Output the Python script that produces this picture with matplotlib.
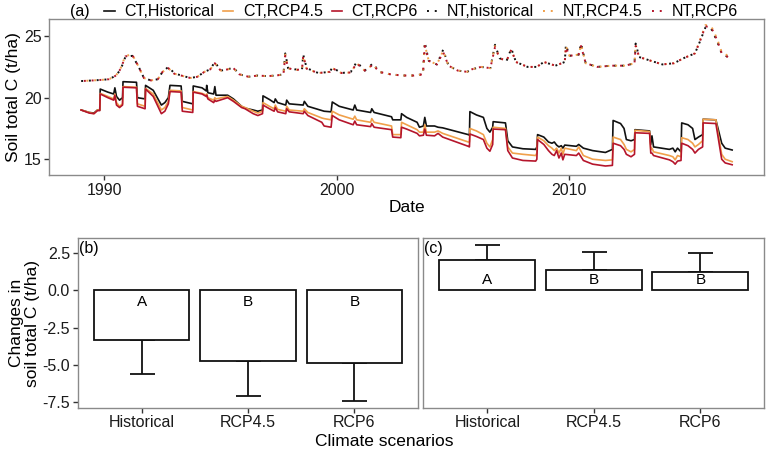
import matplotlib
matplotlib.use("Agg")
import matplotlib.pyplot as plt

plt.rcParams['font.family'] = ['Liberation Sans', 'DejaVu Sans']
plt.rcParams['axes.unicode_minus'] = False

# ---- panel (a): soil total C through time (decimal years) ----
ct_dates = [1989.00, 1989.35, 1989.55, 1989.70, 1989.80, 1989.82, 1990.15, 1990.40, 1990.45, 1990.52,
            1990.65, 1990.78, 1990.80, 1991.38, 1991.42, 1991.75, 1991.77, 1992.10, 1992.45, 1992.60,
            1992.75, 1992.82, 1993.30, 1993.35, 1993.80, 1993.82, 1994.20, 1994.38, 1994.40, 1994.45,
            1994.70, 1994.75, 1994.80, 1995.30, 1995.55, 1995.90, 1996.05, 1996.40, 1996.60, 1996.80,
            1996.82, 1997.10, 1997.30, 1997.35, 1997.45, 1997.80, 1997.84, 1997.95, 1998.55, 1998.60,
            1998.75, 1999.35, 1999.45, 1999.75, 1999.80, 2000.10, 2000.70, 2000.77, 2000.85, 2001.45,
            2001.50, 2001.60, 2002.35, 2002.40, 2002.75, 2002.78, 2003.00, 2003.45, 2003.55, 2003.72,
            2003.78, 2003.85, 2004.20, 2004.35, 2004.55, 2005.65, 2005.70, 2005.72, 2006.00, 2006.30,
            2006.45, 2006.58, 2006.70, 2006.72, 2007.25, 2007.35, 2007.55, 2008.00, 2008.55, 2008.60,
            2008.63, 2008.90, 2009.10, 2009.25, 2009.35, 2009.45, 2009.55, 2009.65, 2009.72, 2009.80,
            2010.30, 2010.40, 2010.60, 2011.00, 2011.55, 2011.85, 2011.88, 2012.20, 2012.35, 2012.45,
            2012.65, 2012.80, 2012.82, 2013.45, 2013.50, 2013.55, 2013.62, 2014.30, 2014.45, 2014.55,
            2014.65, 2014.80, 2014.83, 2015.10, 2015.30, 2015.40, 2015.55, 2015.73, 2015.75, 2016.30,
            2016.55, 2016.70, 2017.00]
ct_hist = [19.0, 18.8, 18.75, 19.0, 19.0, 20.7, 20.45, 20.3, 20.8, 20.1,
           19.8, 20.0, 21.3, 21.25, 20.0, 19.9, 21.0, 20.6, 19.4, 19.6,
           20.0, 21.0, 20.95, 19.7, 19.5, 20.95, 20.8, 20.55, 21.0, 20.4,
           20.3, 20.9, 20.2, 20.2, 19.9, 19.3, 19.15, 19.0, 18.9, 19.0,
           20.15, 19.85, 19.6, 19.9, 19.6, 19.4, 19.8, 19.5, 19.4, 19.7,
           19.3, 18.95, 18.9, 18.85, 19.65, 19.3, 19.0, 19.4, 19.0, 18.8,
           19.1, 18.8, 18.45, 18.2, 18.2, 18.7, 18.4, 18.0, 17.6, 17.7,
           18.4, 17.7, 17.7, 17.6, 17.55, 17.0, 16.95, 18.87, 18.6, 18.4,
           17.5, 17.2, 17.6, 18.05, 17.95, 16.5, 16.0, 15.85, 15.8, 16.0,
           17.0, 16.8, 16.4, 16.3, 16.4, 16.15, 16.0, 16.1, 15.9, 16.15,
           16.05, 16.2, 15.9, 15.7, 15.55, 15.8, 18.15, 17.9, 17.5, 16.6,
           16.5, 16.6, 17.4, 17.3, 16.2, 16.9, 16.0, 15.8, 15.9, 15.6,
           15.9, 15.6, 17.95, 17.8, 17.5, 16.6, 16.8, 17.0, 18.25, 18.2,
           16.3, 15.9, 15.75]
ct_rcp45 = [19.0, 18.8, 18.7, 19.0, 19.0, 20.35, 20.1, 19.9, 20.3, 19.6,
            19.3, 19.5, 20.9, 20.85, 19.5, 19.3, 20.75, 20.3, 19.0, 19.2,
            19.7, 20.6, 20.55, 19.2, 19.0, 20.5, 20.35, 20.2, 20.3, 20.0,
            19.8, 20.0, 19.9, 20.1, 19.8, 19.3, 19.2, 18.9, 18.75, 18.9,
            19.6, 19.3, 19.1, 19.4, 19.05, 18.9, 19.3, 19.0, 18.9, 19.1,
            18.8, 18.35, 18.3, 18.2, 18.9, 18.6, 18.25, 18.5, 18.2, 18.0,
            18.3, 18.0, 17.7, 17.0, 17.0, 18.0, 17.8, 17.4, 17.2, 17.2,
            17.8, 17.2, 17.2, 17.3, 17.1, 16.4, 16.4, 17.5, 17.3, 17.0,
            16.3, 16.0, 16.6, 17.6, 17.5, 16.0, 15.5, 15.4, 15.3, 15.5,
            16.8, 16.5, 16.1, 15.9, 15.7, 15.9, 15.5, 15.9, 15.4, 15.9,
            15.7, 16.0, 15.3, 15.0, 14.9, 14.95, 16.8, 16.6, 16.2, 15.8,
            15.6, 15.8, 17.35, 17.25, 15.8, 15.9, 15.6, 15.3, 15.2, 14.95,
            15.3, 15.2, 16.75, 16.6, 16.3, 16.0, 16.2, 16.5, 18.25, 18.2,
            15.4, 15.0, 14.8]
ct_rcp6 = [19.0, 18.75, 18.7, 18.95, 18.95, 20.3, 20.0, 19.8, 20.2, 19.4,
           19.2, 19.4, 20.85, 20.8, 19.3, 19.1, 20.7, 20.1, 18.7, 18.9,
           19.5, 20.5, 20.45, 18.9, 18.8, 20.45, 20.3, 20.1, 20.2, 19.9,
           19.6, 19.8, 19.7, 20.0, 19.7, 19.2, 19.1, 18.7, 18.55, 18.7,
           19.4, 19.1, 18.9, 19.2, 18.85, 18.7, 19.1, 18.85, 18.7, 18.9,
           18.55, 18.0, 17.7, 17.6, 18.55, 18.2, 17.8, 18.1, 17.8, 17.65,
           17.9, 17.6, 17.4, 16.8, 16.75, 17.6, 17.45, 17.1, 16.9, 16.95,
           17.45, 16.95, 16.9, 17.1, 16.8, 16.05, 16.0, 17.05, 16.85, 16.6,
           15.9, 15.65, 16.2, 17.45, 17.4, 15.7, 15.1, 14.9, 14.85, 15.0,
           16.6, 16.2, 15.7, 15.4, 15.3, 15.7, 15.1, 15.5, 14.95, 15.4,
           15.3, 15.5, 14.9, 14.6, 14.45, 14.5, 16.3, 16.1, 15.8, 15.4,
           15.2, 15.4, 17.15, 17.1, 15.5, 15.5, 15.3, 14.95, 14.8, 14.6,
           14.85, 14.9, 16.3, 16.1, 15.8, 15.5, 15.8, 16.0, 17.95, 17.9,
           15.0, 14.7, 14.55]

nt_dates = [1989.00, 1989.50, 1989.90, 1990.20, 1990.50, 1990.70, 1990.90, 1991.20, 1991.45, 1991.70,
            1992.00, 1992.30, 1992.50, 1992.75, 1993.00, 1993.30, 1993.70, 1994.00, 1994.30, 1994.55,
            1994.75, 1995.00, 1995.30, 1995.55, 1995.80, 1996.20, 1996.60, 1997.00, 1997.40, 1997.70,
            1997.78, 1997.90, 1998.20, 1998.50, 1998.55, 1998.70, 1999.20, 1999.70, 1999.80, 2000.20,
            2000.60, 2000.85, 2001.20, 2001.56, 2001.80, 2002.30, 2002.80, 2003.30, 2003.70, 2003.78,
            2003.95, 2004.30, 2004.57, 2004.80, 2005.20, 2005.60, 2005.80, 2006.20, 2006.60, 2006.80,
            2007.00, 2007.30, 2007.50, 2007.70, 2008.20, 2008.60, 2008.90, 2009.40, 2009.80, 2009.85,
            2010.00, 2010.40, 2010.50, 2010.70, 2011.20, 2011.80, 2012.40, 2012.80, 2012.85, 2013.00,
            2013.50, 2014.00, 2014.50, 2014.90, 2015.40, 2015.60, 2015.85, 2016.10, 2016.35, 2016.55,
            2017.00]
nt_hist = [21.35, 21.4, 21.45, 21.5, 21.8, 22.3, 23.3, 23.4, 22.6, 21.6,
           21.4, 21.5, 22.1, 22.5, 22.0, 21.8, 21.6, 21.7, 22.1, 22.3,
           22.9, 22.2, 22.3, 22.45, 21.9, 21.7, 21.8, 21.75, 21.8, 21.9,
           23.6, 22.4, 22.3, 22.3, 23.5, 22.4, 22.0, 22.1, 22.45, 22.0,
           22.1, 22.9, 22.2, 22.8, 22.1, 21.9, 21.8, 21.8, 21.9, 24.5,
           23.0, 22.7, 23.9, 22.6, 22.2, 22.1, 22.3, 22.5, 22.4, 24.3,
           23.2, 23.0, 24.0, 22.9, 22.5, 22.5, 22.9, 22.6, 22.9, 24.3,
           23.4, 23.5, 24.4, 22.8, 22.5, 22.6, 22.6, 22.8, 24.4, 23.3,
           23.0, 22.7, 22.8, 23.2, 23.6, 24.5, 25.7, 25.6, 24.6, 23.6,
           23.1]
nt_rcp45 = [21.35, 21.4, 21.45, 21.5, 21.8, 22.4, 23.4, 23.5, 22.6, 21.6,
            21.4, 21.5, 22.1, 22.4, 21.95, 21.8, 21.6, 21.7, 22.1, 22.3,
            22.8, 22.2, 22.3, 22.4, 21.9, 21.7, 21.8, 21.75, 21.8, 21.9,
            23.5, 22.4, 22.25, 22.3, 23.4, 22.35, 22.0, 22.1, 22.4, 22.0,
            22.05, 22.8, 22.2, 22.7, 22.1, 21.9, 21.8, 21.8, 21.9, 24.3,
            23.0, 22.7, 23.8, 22.6, 22.2, 22.1, 22.3, 22.5, 22.4, 24.2,
            23.2, 23.0, 23.9, 22.9, 22.5, 22.5, 22.9, 22.6, 22.9, 24.2,
            23.4, 23.5, 24.3, 22.8, 22.5, 22.6, 22.6, 22.8, 24.3, 23.3,
            23.0, 22.7, 22.8, 23.2, 23.6, 24.6, 25.9, 25.8, 24.8, 23.7,
            23.2]
nt_rcp6 = [21.35, 21.4, 21.45, 21.5, 21.8, 22.35, 23.35, 23.45, 22.6, 21.6,
           21.4, 21.5, 22.1, 22.4, 21.95, 21.8, 21.6, 21.7, 22.1, 22.3,
           22.8, 22.2, 22.3, 22.4, 21.9, 21.7, 21.8, 21.75, 21.8, 21.9,
           23.4, 22.4, 22.25, 22.3, 23.4, 22.35, 22.0, 22.1, 22.4, 22.0,
           22.05, 22.8, 22.2, 22.7, 22.1, 21.9, 21.8, 21.8, 21.9, 24.2,
           23.0, 22.7, 23.7, 22.6, 22.2, 22.1, 22.3, 22.5, 22.4, 24.1,
           23.2, 23.0, 23.9, 22.9, 22.5, 22.5, 22.9, 22.6, 22.9, 24.1,
           23.4, 23.5, 24.2, 22.8, 22.5, 22.6, 22.6, 22.8, 24.2, 23.3,
           23.0, 22.7, 22.8, 23.2, 23.6, 24.5, 25.8, 25.7, 24.7, 23.6,
           23.1]

# ---- panels (b) and (c): change in soil total C ----
scenarios = ["Historical", "RCP4.5", "RCP6"]
ct_change = [-3.33, -4.73, -4.90]
ct_err = [2.27, 2.38, 2.52]
ct_letters = ["A", "B", "B"]
nt_change = [2.03, 1.35, 1.24]
nt_err = [1.01, 1.22, 1.31]
nt_letters = ["A", "B", "B"]

black, orange, red = "#111111", "#F0A04B", "#B5152B"
frame = "#8a8a8a"

fig = plt.figure(figsize=(7.68, 4.51), dpi=100)

ax = fig.add_axes([0.0642, 0.612, 0.9306, 0.345])
ax.plot(ct_dates, ct_hist, color=black, lw=1.2, label="CT,Historical")
ax.plot(ct_dates, ct_rcp45, color=orange, lw=1.2, label="CT,RCP4.5")
ax.plot(ct_dates, ct_rcp6, color=red, lw=1.2, label="CT,RCP6")
ax.plot(nt_dates, nt_hist, color=black, lw=1.4, ls=(0, (1, 3)), label="NT,historical")
ax.plot(nt_dates, nt_rcp45, color=orange, lw=1.4, ls=(1.3, (1, 3)), label="NT,RCP4.5")
ax.plot(nt_dates, nt_rcp6, color=red, lw=1.4, ls=(2.6, (1, 3)), label="NT,RCP6")
ax.set_xlim(1987.63, 2018.37)
ax.set_ylim(13.72, 26.36)
ax.set_xticks([1990, 2000, 2010])
ax.set_yticks([15, 20, 25])
ax.set_xlabel("Date", fontsize=12.5, labelpad=2)
ax.set_ylabel("Soil total C (t/ha)", fontsize=12.5, labelpad=2)
leg = ax.legend(ncol=6, loc="center left", bbox_to_anchor=(0.0765, 1.05), frameon=False,
                fontsize=11.5, handlelength=0.66, handletextpad=0.6, columnspacing=0.55,
                borderpad=0, borderaxespad=0)
# all dotted keys show two dots, like the reference
for h in leg.get_lines()[3:]:
    h.set_linestyle((0, (1, 3)))
fig.text(0.0911, 0.974, "(a)", fontsize=11.5, ha="left", va="center")

axb = fig.add_axes([0.1012, 0.096, 0.4435, 0.3756])
axc = fig.add_axes([0.5512, 0.096, 0.4440, 0.3756])
xs = range(1, len(scenarios) + 1)
for a, vals, errs, letters, tag, ly in [(axb, ct_change, ct_err, ct_letters, "(b)", -0.75),
                                        (axc, nt_change, nt_err, nt_letters, "(c)", 0.72)]:
    lower = [e if v < 0 else 0 for v, e in zip(vals, errs)]
    upper = [e if v > 0 else 0 for v, e in zip(vals, errs)]
    a.errorbar(list(xs), vals, yerr=[lower, upper], fmt="none", ecolor=black,
               elinewidth=1.3, capsize=9, capthick=1.3, zorder=1)
    a.bar(list(xs), vals, width=0.9, facecolor="white", edgecolor=black, linewidth=1.3, zorder=2)
    for x, t in zip(xs, letters):
        a.text(x, ly, t, ha="center", va="center", fontsize=11)
    a.text(0.003, 0.985, tag, transform=a.transAxes, ha="left", va="top", fontsize=11.5)
    a.set_xlim(0.4, 3.6)
    a.set_ylim(-7.9, 3.51)
    a.set_xticks(list(xs))
    a.set_xticklabels(scenarios)
    a.set_yticks([2.5, 0.0, -2.5, -5.0, -7.5])
axb.set_yticklabels(["2.5", "0.0", "-2.5", "-5.0", "-7.5"])
axc.tick_params(axis="y", left=False, labelleft=False)
axb.set_ylabel("Changes in\nsoil total C (t/ha)", fontsize=12.5, labelpad=2, linespacing=1.05)
fig.text(0.5, 0.02, "Climate scenarios", ha="center", va="center", fontsize=12.5)

for a in (ax, axb, axc):
    for s in a.spines.values():
        s.set_color(frame)
        s.set_linewidth(1.0)
    a.tick_params(colors="#333333", labelsize=11.5, length=3.5, width=1.0, pad=2)
    a.tick_params(labelcolor="#1a1a1a")

fig.savefig("out.png", dpi=100)
